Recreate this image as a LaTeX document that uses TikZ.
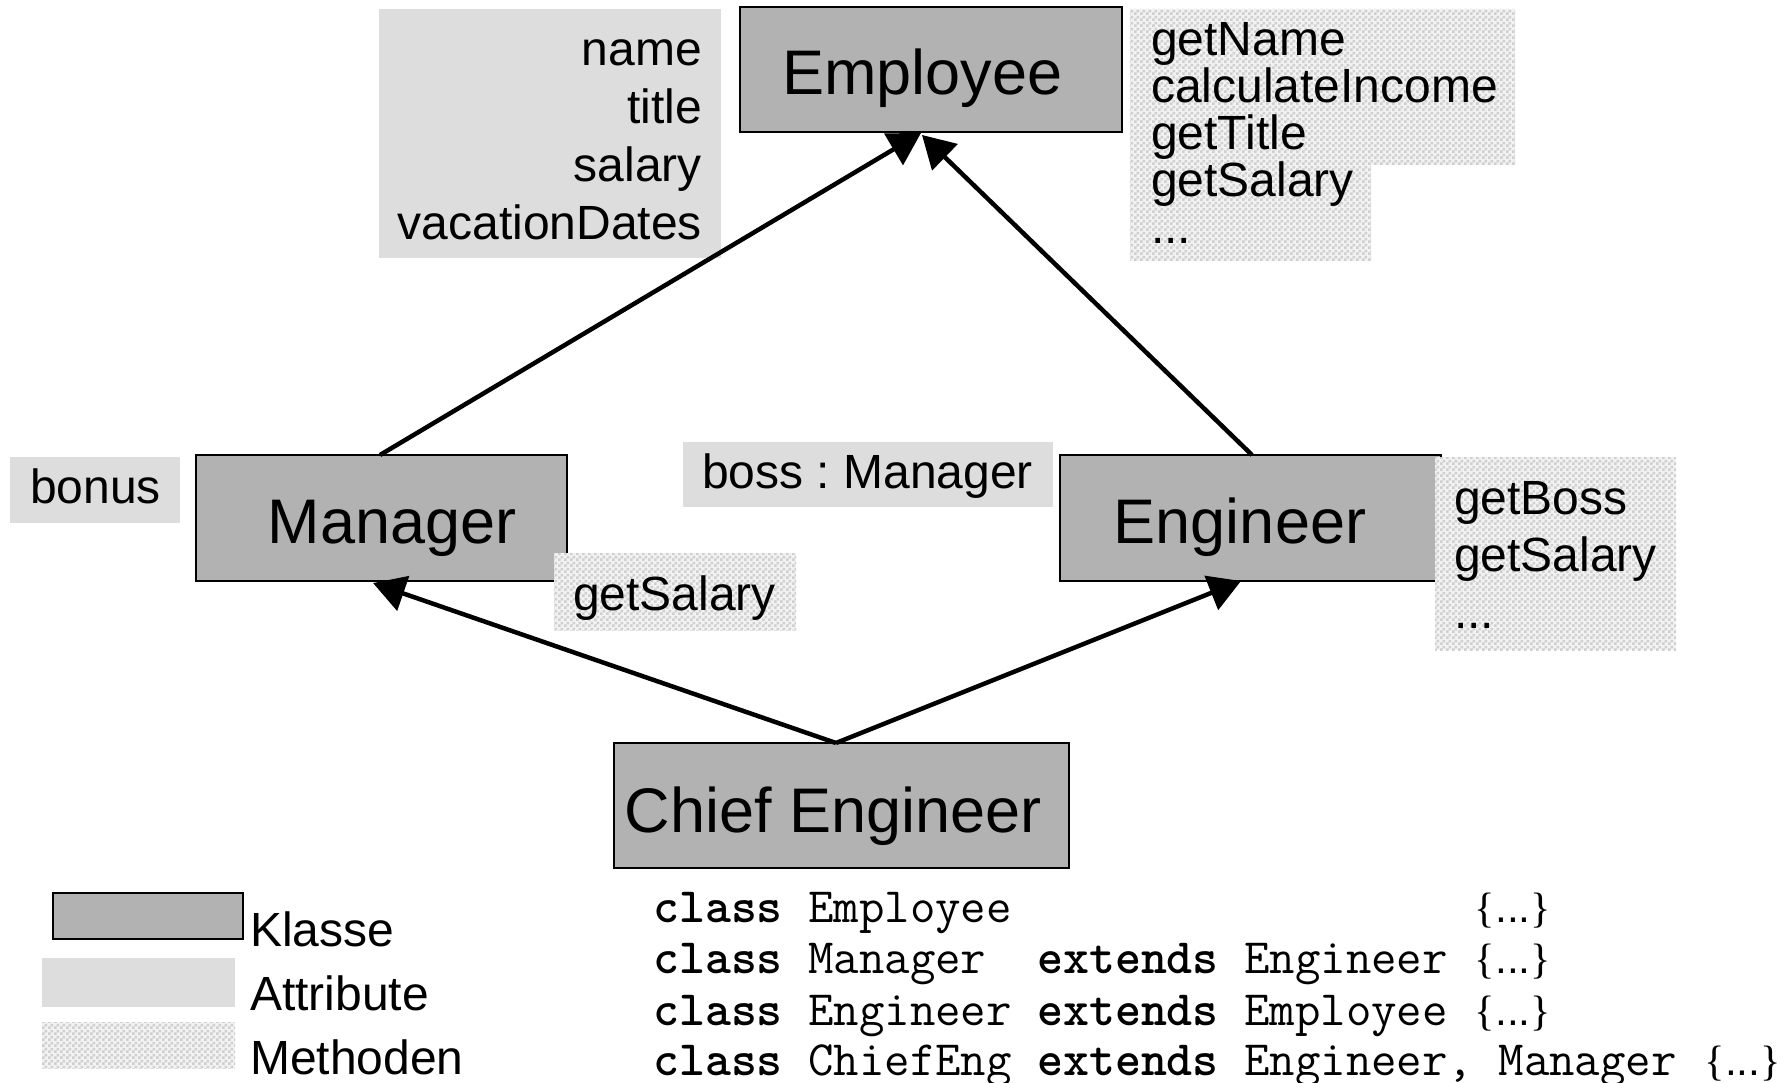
\documentclass[tikz,border=0pt]{standalone}
\usepackage{fontspec}
\setmainfont{Liberation Sans}
\newfontfamily\bracefont{Liberation Serif}
\usetikzlibrary{arrows.meta,patterns}

% fine checkerboard used for method boxes
\pgfdeclarepatternformonly{checker}{\pgfqpoint{0pt}{0pt}}{\pgfqpoint{6pt}{6pt}}{\pgfqpoint{6pt}{6pt}}{%
  \pgfpathrectangle{\pgfqpoint{0pt}{0pt}}{\pgfqpoint{3pt}{3pt}}%
  \pgfpathrectangle{\pgfqpoint{3pt}{3pt}}{\pgfqpoint{3pt}{3pt}}%
  \pgfusepath{fill}}

\definecolor{classfill}{HTML}{B2B2B2}
\definecolor{attrfill}{HTML}{DDDDDD}
\definecolor{methlight}{HTML}{F2F2F2}
\definecolor{methdark}{HTML}{CFCFCF}

% width of one monospaced column in the code listing
\newlength\cw
\setlength\cw{25.55pt}
\newcommand\kw[1]{{\bfseries #1}}
\newcommand\ellip{...}
\newcommand\codebody{\hspace{4pt}{\fontsize{42.5}{51}\selectfont{\bracefont\{}{\rmfamily\ellip}{\bracefont\}}}}

\tikzset{
  classbox/.style={draw=black, line width=2pt, fill=classfill, inner sep=0pt, outer sep=0pt},
  classname/.style={font=\fontsize{63}{70}\selectfont, inner sep=0pt, anchor=base},
  attrbox/.style={fill=attrfill, inner sep=0pt, outer sep=0pt},
  methbox/.style={preaction={fill=methlight}, pattern=checker, pattern color=methdark, inner sep=0pt, outer sep=0pt},
  itemtext/.style={font=\fontsize{48}{58}\selectfont, inner sep=0pt},
  codetext/.style={font=\ttfamily\fontsize{49.4}{51}\selectfont, inner sep=0pt, anchor=base west},
  inherit/.style={line width=4.5pt, -{Triangle[length=32pt,width=36pt]}},
}

\begin{document}
\frenchspacing
\begin{tikzpicture}[x=1pt, y=-1pt]
\useasboundingbox (0,0) rectangle (1789,1083);
\fill[white] (0,0) rectangle (1789,1083);

% ---- classes ----
\node[classbox, minimum width=382pt, minimum height=125pt] (employee) at (931,69.5) {};
\node[classname] (employee-name) at (922.5,95) {Employee};
\node[classbox, minimum width=371pt, minimum height=126pt] (manager) at (381.5,518) {};
\node[classname] (manager-name) at (392,543) {Manager};
\node[classbox, minimum width=381pt, minimum height=126pt] (engineer) at (1250.5,518) {};
\node[classname] (engineer-name) at (1240,543) {Engineer};
\node[classbox, minimum width=455pt, minimum height=125pt] (chief) at (841.5,805.5) {};
\node[classname] (chief-name) at (833,832) {Chief Engineer};

% ---- attributes ----
\node[attrbox, minimum width=342pt, minimum height=249pt] (empattr) at (550,133.5) {};
\foreach \t [count=\i] in {name,title,salary,vacationDates}
  \node[itemtext, anchor=base east] (empattr-\i) at (702,{66+58*(\i-1)}) {\t};

\node[attrbox, minimum width=170pt, minimum height=66pt] (mgrattr) at (95,490) {};
\node[itemtext, anchor=base west] (mgrattr-1) at (30,503) {bonus};

\node[attrbox, minimum width=370pt, minimum height=65pt] (engattr) at (868,474.5) {};
\node[itemtext, anchor=base west] (engattr-1) at (702,488) {boss : Manager};

% ---- methods ----
\path[methbox] (1130,9) -- (1515,9) -- (1515,165) -- (1371,165) -- (1371,261) -- (1130,261) -- cycle;
\foreach \t [count=\i] in {getName,calculateIncome,getTitle,getSalary,\ellip}
  \node[itemtext, anchor=base west] (empmeth-\i) at (1151,{56+47*(\i-1)}) {\t};

\node[methbox, minimum width=242pt, minimum height=77pt] (mgrmeth) at (675,591.5) {};
\node[itemtext, anchor=base west] (mgrmeth-1) at (573,610) {getSalary};

\node[methbox, minimum width=241pt, minimum height=193pt] (engmeth) at (1555.5,553.5) {};
\foreach \t [count=\i] in {getBoss,getSalary,\ellip}
  \node[itemtext, anchor=base west] (engmeth-\i) at (1454,{514+57*(\i-1)}) {\t};

% ---- inheritance arrows ----
\draw[inherit] ([xshift=-1.5pt]manager.north) -- ([xshift=-10pt,yshift=-1pt]employee.south);
\draw[inherit] ([xshift=1.5pt]engineer.north) -- ([xshift=-9pt,yshift=-3pt]employee.south);
\draw[inherit] ([xshift=-5.5pt]chief.north) -- ([xshift=-8.5pt,yshift=-2pt]manager.south);
\draw[inherit] ([xshift=-5.5pt]chief.north) -- ([xshift=-9.5pt]engineer.south);

% ---- legend ----
\node[classbox, minimum width=190pt, minimum height=46pt] (leg-class) at (148,916) {};
\node[attrbox, minimum width=193pt, minimum height=49pt] (leg-attr) at (138.5,982.5) {};
\node[methbox, minimum width=193pt, minimum height=46pt] (leg-meth) at (138.5,1045) {};
\node[itemtext, anchor=base west] (leg-class-text) at (250,946) {Klasse};
\node[itemtext, anchor=base west] (leg-attr-text) at (250,1010) {Attribute};
\node[itemtext, anchor=base west] (leg-meth-text) at (250,1074) {Methoden};

% ---- code ----
\node[codetext] (code-1) at (653,922) {\makebox[32\cw][l]{\kw{class} Employee}\codebody};
\node[codetext] (code-2) at (653,973) {\makebox[32\cw][l]{\kw{class} Manager\ \ \kw{extends} Engineer}\codebody};
\node[codetext] (code-3) at (653,1025) {\makebox[32\cw][l]{\kw{class} Engineer \kw{extends} Employee}\codebody};
\node[codetext] (code-4) at (653,1075) {\makebox[41\cw][l]{\kw{class} ChiefEng \kw{extends} Engineer, Manager}\codebody};
\end{tikzpicture}
\end{document}
